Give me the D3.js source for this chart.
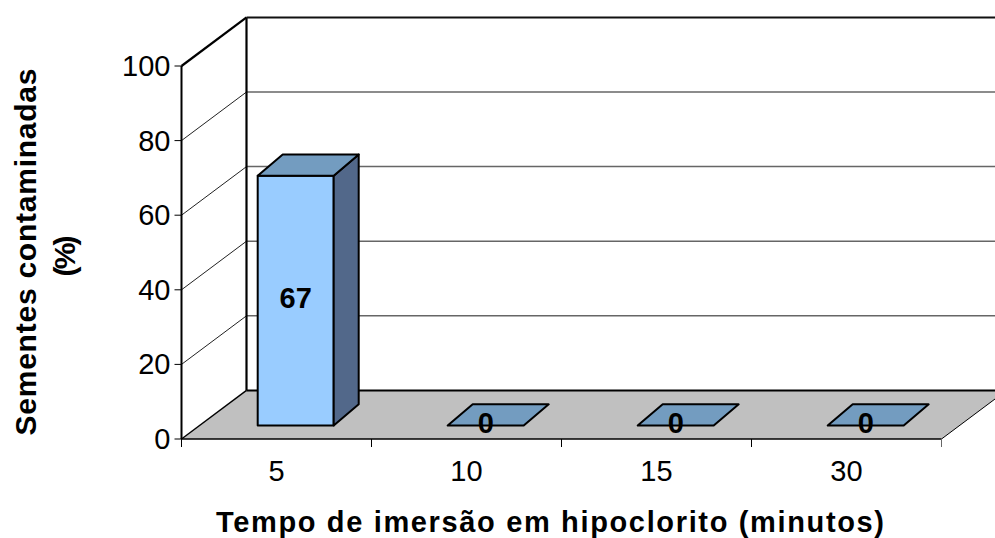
<!DOCTYPE html>
<html><head><meta charset="utf-8">
<script src="https://cdn.jsdelivr.net/npm/d3@7/dist/d3.min.js"></script>
<style>html,body{margin:0;background:#fff}svg{display:block}text{font-family:"Liberation Sans",Arial,sans-serif;fill:#000}</style>
</head><body><svg id="c" width="995" height="538"></svg>
<script>
const categories=["5","10","15","30"];
const values=[67,0,0,0];
const yTicks=[0,20,40,60,80,100];
const xTitle="Tempo de imersão em hipoclorito (minutos)";
const yTitle=["Sementes contaminadas","(%)"];

const svg=d3.select("#c");
const x=d3.scaleBand().domain(categories).range([181.5,941.5]);
const y=d3.scaleLinear().domain([0,100]).range([439,66]);
const dxAll=65,dyAll=48.6;
const P=(px,v,z)=>[px+dxAll*z,y(v)-dyAll*z];
const path=pts=>"M"+pts.map(p=>p.join(",")).join("L")+"Z";
const line=(a,b,w,c)=>svg.append("line").attr("x1",a[0]).attr("y1",a[1]).attr("x2",b[0]).attr("y2",b[1]).attr("stroke",c||"#000").attr("stroke-width",w);

const x0=x.range()[0],x1=x.range()[1];
svg.append("path").attr("d",path([P(x0,0,0),P(x1,0,0),P(x1,0,1),P(x0,0,1)])).attr("fill","#c0c0c0");
yTicks.slice(1,-1).forEach(t=>{
  line(P(x0,t,0),P(x0,t,1),1,"#222");
  line(P(x0,t,1),[995,y(t)-dyAll],1.5,"#666");
});
line(P(x0,100,0),P(x0,0,0),2);
line(P(x0,100,1),P(x0,0,1),2.2);
line(P(x0,100,0),P(x0,100,1),2.2);
line(P(x0,100,1),[995,y(100)-dyAll],2,"#111");
line(P(x0,0,1),[995,y(0)-dyAll],2);
line(P(x0,0,0),P(x0,0,1),1.4);
line(P(x1,0,0),P(x1,0,1),1);
line(P(x0,0,0),P(x1,0,0),1.5);
yTicks.forEach(t=>{
  line([x0-7,y(t)],[x0,y(t)],1);
  svg.append("text").attr("x",x0-11).attr("y",y(t)+10).attr("text-anchor","end").attr("font-size",29).text(t);
});
d3.range(categories.length+1).forEach(i=>{
  const px=x0+i*x.step();
  line([px,439],[px,447],1,i===4?"#666":"#000");
});
categories.forEach(c=>svg.append("text").attr("x",x(c)+x.step()/2).attr("y",480.5).attr("text-anchor","middle").attr("font-size",29).text(c));
const barW=76,dF=25,dH=21.3;
categories.forEach((c,i)=>{
  const v=values[i];
  const l=x(c)+x.bandwidth()/2-barW/2+19.2,r=l+barW;
  const b=425.6,t=b-(y(0)-y(v));
  const g=svg.append("g").attr("stroke","#000").attr("stroke-width",2).attr("stroke-linejoin","round");
  if(v>0){
    g.append("path").attr("d",path([[l,b],[r,b],[r,t],[l,t]])).attr("fill","#99ccff");
    g.append("path").attr("d",path([[r,b],[r+dF,b-dH],[r+dF,t-dH],[r,t]])).attr("fill","#52688a");
  }
  g.append("path").attr("d",path([[l,t],[r,t],[r+dF,t-dH],[l+dF,t-dH]])).attr("fill","#739cc0");
  svg.append("text").attr("x",l+barW/2).attr("y",v>0?(b+t)/2+7:t+7).attr("text-anchor","middle").attr("font-size",29).attr("font-weight","bold").text(v);
});
svg.append("text").attr("x",550).attr("y",532).attr("text-anchor","middle").attr("font-size",29).attr("font-weight","bold").attr("textLength",668).text(xTitle);
yTitle.forEach((s,i)=>svg.append("text").attr("transform",`translate(${i?75:36},${i?256:252}) rotate(-90)`).attr("text-anchor","middle").attr("font-size",30).attr("font-weight","bold").attr("textLength",i?41:367).text(s));
</script></body></html>
